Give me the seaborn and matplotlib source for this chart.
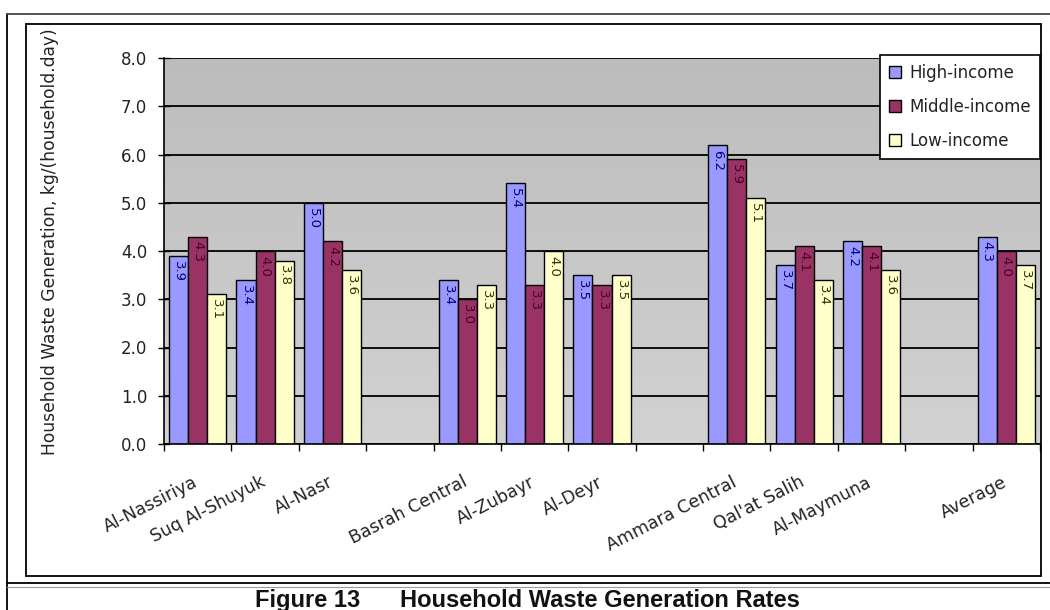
import numpy as np
import pandas as pd
import matplotlib
matplotlib.use("Agg")
import matplotlib.pyplot as plt
from matplotlib.patches import Rectangle
from matplotlib.lines import Line2D
from matplotlib.colors import LinearSegmentedColormap
import matplotlib.transforms as mtransforms
import seaborn as sns

# Household waste generation (kg per household per day) by town and income group
sites = ["Al-Nassiriya", "Suq Al-Shuyuk", "Al-Nasr",
         "Basrah Central", "Al-Zubayr", "Al-Deyr",
         "Ammara Central", "Qal'at Salih", "Al-Maymuna",
         "Average"]
high_income = [3.9, 3.4, 5.0, 3.4, 5.4, 3.5, 6.2, 3.7, 4.2, 4.3]
middle_income = [4.3, 4.0, 4.2, 3.0, 3.3, 3.3, 5.9, 4.1, 4.1, 4.0]
low_income = [3.1, 3.8, 3.6, 3.3, 4.0, 3.5, 5.1, 3.4, 3.6, 3.7]
income_groups = ["High-income", "Middle-income", "Low-income"]
y_ticks = [0, 1, 2, 3, 4, 5, 6, 7, 8]

bar_colors = ["#9999FF", "#993366", "#FFFFCC"]
label_colors = ["#000080", "#4a0020", "#333300"]

# empty slots separate the three governorates and the overall average
order = sites[:3] + [" "] + sites[3:6] + ["  "] + sites[6:9] + ["   "] + sites[9:]

df = pd.DataFrame({
    "site": sites * 3,
    "income": np.repeat(income_groups, len(sites)),
    "value": high_income + middle_income + low_income,
})

sns.set_theme(style="white")
plt.rcParams["font.family"] = ["DejaVu Sans"]

W, H = 1050, 610
fig = plt.figure(figsize=(W / 100, H / 100), dpi=100)
fig.patch.set_facecolor("white")

ax_l, ax_r, ax_t, ax_b = 164, 1040, 58, 444
ax = fig.add_axes([ax_l / W, 1 - ax_b / H, (ax_r - ax_l) / W, (ax_b - ax_t) / H])

# soft gray gradient behind the plot area
bg = LinearSegmentedColormap.from_list("bg", ["#bcbcbc", "#d2d2d2"])
ax.imshow(np.linspace(0, 1, 256).reshape(-1, 1), cmap=bg, aspect="auto",
          extent=[0, 1, 0, 1], transform=ax.transAxes, zorder=0)

sns.barplot(data=df, x="site", y="value", hue="income", order=order,
            hue_order=income_groups, palette=bar_colors, width=0.85,
            saturation=1, edgecolor="black", linewidth=1.0, gap=0,
            errorbar=None, legend=False, ax=ax, zorder=2)

# value labels written downward just inside the top of each bar
for container, lc in zip(ax.containers, label_colors):
    for bar in container:
        h = bar.get_height()
        if np.isnan(h):
            continue
        ax.text(bar.get_x() + bar.get_width() / 2, h - 0.1, f"{h:.1f}",
                rotation=-90, ha="center", va="top", fontsize=9.5,
                color=lc, zorder=4)

ax.set_xlim(-0.5, len(order) - 0.5)
ax.set_ylim(0, 8)
ax.set_xlabel("")
ax.set_ylabel("")

ax.set_yticks(y_ticks)
ax.set_yticklabels([f"{t:.1f}" for t in y_ticks])
ax.yaxis.grid(True, color="black", linewidth=1.3)
ax.set_axisbelow(True)
ax.tick_params(axis="y", direction="inout", length=8, width=1, color="black",
               labelsize=12, pad=8, left=True, labelcolor="#222222")

ax.set_xticks(range(len(order)))
ax.set_xticklabels([s.strip() for s in order], rotation=27, ha="right",
                   rotation_mode="anchor", fontsize=12.5, color="#222222")
ax.set_xticks(np.arange(-0.5, len(order), 1), minor=True)
ax.tick_params(axis="x", which="major", length=0, pad=21)
ax.tick_params(axis="x", which="minor", direction="out", length=5, width=1,
               color="black", bottom=True)
shift = mtransforms.ScaledTranslation(-5 / 100, 0, fig.dpi_scale_trans)
for lab in ax.get_xticklabels():
    lab.set_transform(lab.get_transform() + shift)

for side in ["top", "right"]:
    ax.spines[side].set_visible(False)
for side in ["left", "bottom"]:
    ax.spines[side].set_color("black")
    ax.spines[side].set_linewidth(1.2)

handles = [Rectangle((0, 0), 1, 1, facecolor=c, edgecolor="black", linewidth=1)
           for c in bar_colors]
leg = ax.legend(handles, income_groups, loc="upper right",
                bbox_to_anchor=(1040 / W, 1 - 55 / H),
                bbox_transform=fig.transFigure, frameon=True, fancybox=False,
                edgecolor="black", framealpha=1, fontsize=12,
                handlelength=0.7, handleheight=0.7, handletextpad=0.5,
                labelspacing=0.95, borderpad=0.55, borderaxespad=0)
leg.get_frame().set_linewidth(1.2)
for t in leg.get_texts():
    t.set_color("#222222")

fig.text(50 / W, 1 - 242 / H, "Household Waste Generation, kg/(household.day)",
         rotation=90, ha="center", va="center", fontsize=12.3, color="#222222")

# chart border and the surrounding figure frame
fig.add_artist(Rectangle((26 / W, 1 - 576 / H), (1041 - 26) / W, (576 - 24) / H,
                         transform=fig.transFigure, fill=False,
                         edgecolor="black", linewidth=1.3))
fig.add_artist(Line2D([7 / W, 7 / W], [1 - 14 / H, 0], transform=fig.transFigure,
                      color="black", linewidth=1.3))
fig.add_artist(Line2D([7 / W, 1], [1 - 14 / H, 1 - 14 / H],
                      transform=fig.transFigure, color="#444444", linewidth=1.3))
fig.add_artist(Line2D([7 / W, 1], [1 - 583 / H, 1 - 583 / H],
                      transform=fig.transFigure, color="black", linewidth=1.3))
fig.add_artist(Line2D([7 / W, 1], [1 - 587 / H, 1 - 587 / H],
                      transform=fig.transFigure, color="#999999", linewidth=0.8))

fig.text(255 / W, 1 - 607 / H, "Figure 13", fontsize=17, fontweight="bold",
         family="Liberation Sans", va="baseline", ha="left", color="#111111")
fig.text(400 / W, 1 - 607 / H, "Household Waste Generation Rates", fontsize=17,
         fontweight="bold", family="Liberation Sans", va="baseline", ha="left",
         color="#111111")

fig.savefig("out.png", dpi=100)
